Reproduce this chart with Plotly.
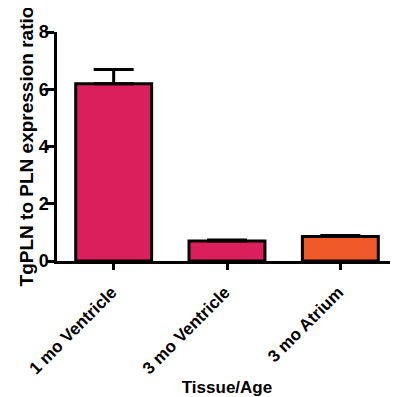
import plotly.graph_objects as go

categories = ["1 mo Ventricle", "3 mo Ventricle", "3 mo Atrium"]
values = [6.19, 0.70, 0.86]
errors = [0.50, 0.03, 0.03]
colors = ["#DA1F5C", "#DA1F5C", "#F05A28"]

fig = go.Figure()
fig.add_trace(go.Bar(
    x=categories, y=values,
    marker=dict(color=colors, line=dict(color="black", width=3)),
    width=0.67,
    error_y=dict(type="data", array=errors, arrayminus=[0, 0, 0], symmetric=False,
                 color="black", thickness=3, width=20),
))

font_family = "Liberation Sans, Arial, sans-serif"
fig.update_layout(
    width=390, height=389,
    margin=dict(l=49, r=1, t=24, b=136),
    plot_bgcolor="white", paper_bgcolor="white",
    showlegend=False,
    font=dict(family=font_family, color="black"),
    xaxis=dict(
        range=[-0.5, 2.5], automargin=False,
        showline=True, linecolor="black", linewidth=2.5,
        ticks="outside", ticklen=6, tickwidth=2.5, tickcolor="black",
        tickangle=-45, ticklabelstandoff=6, ticklabelshift=-2,
        tickfont=dict(size=17, family=font_family, weight="bold"),
        title=dict(text="<b>Tissue/Age</b>", font=dict(size=17), standoff=4),
        showgrid=False, zeroline=False,
    ),
    yaxis=dict(
        range=[0, 8], tickvals=[0, 2, 4, 6, 8], automargin=False,
        showline=True, linecolor="black", linewidth=2.5,
        ticks="outside", ticklen=8, tickwidth=2.5, tickcolor="black",
        ticklabelstandoff=-6,
        tickfont=dict(size=18, family=font_family, weight="bold"),
        title=dict(text="<b>TgPLN to PLN expression ratio</b>", font=dict(size=19), standoff=0),
        showgrid=False, zeroline=False,
    ),
)

fig.write_html("out.html")
